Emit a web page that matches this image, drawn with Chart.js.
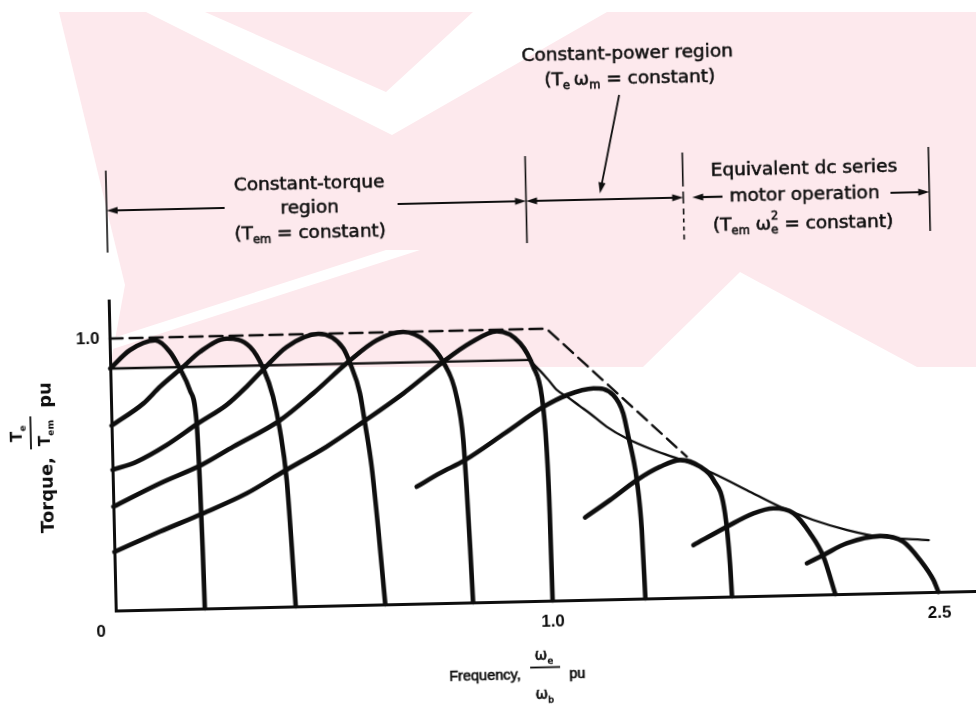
<!DOCTYPE html>
<html>
<head>
<meta charset="utf-8">
<title>Variable-frequency torque–speed characteristics</title>
<script src="https://cdn.jsdelivr.net/npm/chart.js@4.4.1/dist/chart.umd.min.js"></script>
<style>
  html, body { margin: 0; padding: 0; background: #fff; overflow: hidden; }
  #wrap { position: relative; width: 976px; height: 707px; }
  #mark { position: absolute; left: 0; top: 0; }
  #chart { position: absolute; left: 0; top: 0; transform: rotate(-1.3deg); transform-origin: 488px 353.5px; }
</style>
</head>
<body>
<div id="wrap">
  <!-- light page emblem behind the figure -->
  <svg id="mark" width="976" height="707" xmlns="http://www.w3.org/2000/svg">
    <rect x="0" y="12" width="976" height="355" fill="#fde9ed"/>
    <g fill="#ffffff">
      <polygon points="0,12 59,12 125,285 110,367 0,367"/>
      <polygon points="146,12 205,12 386,92 473,12 607,12 392,135"/>
      <polygon points="386,250 420,250 57,367 23,367"/>
      <polygon points="643,367 740,272 917,367"/>
    </g>
  </svg>
  <canvas id="chart" width="976" height="707"></canvas>
</div>
<script>
// ---- Axis ticks ----
const freqTicks = [0, 1.0, 2.5];
const freqTickLabels = ['0', '1.0', '2.5'];
const torqueTicks = [1.0];
const torqueTickLabels = ['1.0'];

// Operating-region boundaries along the frequency axis (pu)
const regionBoundaryFreq = [0, 0.96, 1.545, 2.505];

// ---- Torque–speed curves at successive supply frequencies (frequency pu, torque pu) ----
const curve1Freq   = [0, 0.046, 0.104, 0.137, 0.159, 0.181, 0.195, 0.199, 0.202, 0.204];
const curve1Torque = [0.89, 0.956, 0.99, 0.947, 0.885, 0.804, 0.681, 0.472, 0.227, 0];

const curve2Freq   = [0, 0.074, 0.113, 0.163, 0.206, 0.268, 0.321, 0.35, 0.371, 0.385, 0.398, 0.406, 0.412];
const curve2Torque = [0.68, 0.759, 0.819, 0.885, 0.944, 0.99, 0.958, 0.878, 0.773, 0.65, 0.465, 0.22, 0];

const curve3Freq   = [0, 0.055, 0.125, 0.198, 0.264, 0.311, 0.35, 0.405, 0.478, 0.534, 0.549, 0.57, 0.58, 0.593, 0.605, 0.617];
const curve3Torque = [0.517, 0.545, 0.604, 0.681, 0.746, 0.812, 0.874, 0.955, 1.0, 0.945, 0.889, 0.778, 0.667, 0.507, 0.274, 0];

const curve4Freq   = [0, 0.108, 0.204, 0.277, 0.386, 0.463, 0.545, 0.611, 0.672, 0.725, 0.762, 0.791, 0.804, 0.809, 0.814, 0.818];
const curve4Torque = [0.382, 0.464, 0.528, 0.592, 0.686, 0.782, 0.895, 0.972, 1.0, 0.962, 0.887, 0.757, 0.598, 0.426, 0.205, 0];

const curve5Freq   = [0, 0.105, 0.205, 0.306, 0.39, 0.491, 0.576, 0.669, 0.762, 0.824, 0.886, 0.939, 0.968, 0.986, 0.994, 0.998, 1.0];
const curve5Torque = [0.216, 0.286, 0.35, 0.42, 0.496, 0.585, 0.673, 0.774, 0.887, 0.953, 0.995, 0.949, 0.861, 0.75, 0.566, 0.321, 0];

const curve6Freq   = [0.695, 0.749, 0.807, 0.9, 0.989, 1.073, 1.178, 1.255, 1.292, 1.31, 1.328, 1.339, 1.354, 1.362];
const curve6Torque = [0.43, 0.478, 0.524, 0.62, 0.713, 0.754, 0.777, 0.75, 0.682, 0.596, 0.51, 0.436, 0.252, 0];

const curve7Freq   = [1.134, 1.233, 1.339, 1.431, 1.51, 1.587, 1.638, 1.68, 1.695, 1.7];
const curve7Torque = [0.303, 0.365, 0.436, 0.483, 0.506, 0.48, 0.43, 0.306, 0.122, 0];

const curve8Freq   = [1.554, 1.686, 1.791, 1.869, 1.947, 2.01, 2.06, 2.103];
const curve8Torque = [0.192, 0.257, 0.304, 0.321, 0.301, 0.226, 0.139, 0];

const curve9Freq   = [1.995, 2.06, 2.152, 2.283, 2.373, 2.437, 2.487, 2.505];
const curve9Torque = [0.116, 0.145, 0.186, 0.21, 0.187, 0.118, 0.044, 0];

// Envelope of the operating torque (thin solid line)
const envelopeFreq   = [0, 0.955, 0.975, 1.0, 1.035, 1.075, 1.123, 1.162, 1.226, 1.303, 1.406, 1.535, 1.638, 1.767, 1.895, 2.023, 2.154, 2.283, 2.472];
const envelopeTorque = [0.89, 0.887, 0.86, 0.815, 0.774, 0.748, 0.713, 0.685, 0.635, 0.59, 0.545, 0.499, 0.454, 0.39, 0.326, 0.275, 0.235, 0.207, 0.191];

// Breakdown-torque limit (dashed line)
const limitFreq   = [0, 1.0, 1.536];
const limitTorque = [1.0, 1.0, 0.518];

// ---- Frequency axis: 0–1 pu and 1–2.65 pu drawn on different spans ----
class PiecewiseScale extends Chart.LinearScale {
  static id = 'piecewise';
  static defaults = Chart.LinearScale.defaults;
  _decimalFor(v) {
    const bv = this.options.breakValue, bf = this.options.breakFraction;
    if (v <= bv) return (v - this.min) / (bv - this.min) * bf;
    return bf + (v - bv) / (this.max - bv) * (1 - bf);
  }
  getPixelForValue(v) {
    return this.getPixelForDecimal(this._decimalFor(v));
  }
  getValueForPixel(p) {
    const d = this.getDecimalForPixel(p);
    const bv = this.options.breakValue, bf = this.options.breakFraction;
    return d <= bf ? this.min + d / bf * (bv - this.min)
                   : bv + (d - bf) / (1 - bf) * (this.max - bv);
  }
}
Chart.register(PiecewiseScale);

const INK = '#0e0e0e';
const toPoints = (xs, ys) => xs.map((x, i) => ({ x, y: ys[i] }));

function heavy(xs, ys) {
  return { data: toPoints(xs, ys), borderColor: INK, borderWidth: 4.6,
           cubicInterpolationMode: 'monotone', pointRadius: 0, fill: false, clip: false };
}

const datasets = [
  heavy(curve1Freq, curve1Torque),
  heavy(curve2Freq, curve2Torque),
  heavy(curve3Freq, curve3Torque),
  heavy(curve4Freq, curve4Torque),
  heavy(curve5Freq, curve5Torque),
  heavy(curve6Freq, curve6Torque),
  heavy(curve7Freq, curve7Torque),
  heavy(curve8Freq, curve8Torque),
  heavy(curve9Freq, curve9Torque),
  { data: toPoints(envelopeFreq, envelopeTorque), borderColor: INK, borderWidth: 2.3,
    cubicInterpolationMode: 'monotone', pointRadius: 0, fill: false, clip: false },
  { data: toPoints(limitFreq, limitTorque), borderColor: INK, borderWidth: 2.4,
    borderDash: [13, 7], tension: 0, pointRadius: 0, fill: false, clip: false }
];

// ---- Text helpers: runs with subscripts / superscripts ----
function drawRich(ctx, parts, x0, midY, size, family, weight, align, ink) {
  const sm = size * 0.62;
  const fN = `${weight} ${size}px ${family}`;
  const fS = `${weight} ${sm}px ${family}`;
  let total = 0;
  const items = parts.map(p => {
    if (typeof p === 'string') {
      ctx.font = fN; const w = ctx.measureText(p).width; total += w; return { t: p, w };
    }
    ctx.font = fS;
    const w = Math.max(p.sub ? ctx.measureText(p.sub).width : 0, p.sup ? ctx.measureText(p.sup).width : 0);
    total += w; return Object.assign({ w }, p);
  });
  let x = align === 'center' ? x0 - total / 2 : align === 'right' ? x0 - total : x0;
  const base = midY + size * 0.36;
  ctx.textAlign = 'left';
  ctx.textBaseline = 'alphabetic';
  const put = (t, px, py) => {
    ctx.fillText(t, px, py);
    if (ink) { ctx.lineWidth = ink; ctx.strokeText(t, px, py); }
  };
  items.forEach(it => {
    if (it.t !== undefined) { ctx.font = fN; put(it.t, x, base); }
    else {
      ctx.font = fS;
      if (it.sub) put(it.sub, x, base + size * 0.26);
      if (it.sup) put(it.sup, x, base - size * 0.52);
    }
    x += it.w;
  });
  return total;
}

function arrowHead(ctx, x, y, dir) {
  ctx.beginPath();
  ctx.moveTo(x, y);
  ctx.lineTo(x - dir * 11, y - 3.6);
  ctx.lineTo(x - dir * 11, y + 3.6);
  ctx.closePath();
  ctx.fill();
}

function arrowLine(ctx, x1, x2, y, headStart, headEnd) {
  ctx.beginPath();
  ctx.moveTo(x1 + (headStart ? 6 : 0), y);
  ctx.lineTo(x2 - (headEnd ? 6 : 0), y);
  ctx.stroke();
  if (headStart) arrowHead(ctx, x1, y, -1);
  if (headEnd) arrowHead(ctx, x2, y, 1);
}

const ANNO_FONT = '"DejaVu Sans", sans-serif';
const TICK_FONT = '"Liberation Sans", Arial, sans-serif';

const figureText = {
  id: 'figureText',
  afterDraw(chart) {
    const ctx = chart.ctx;
    const xs = chart.scales.x, ys = chart.scales.y;
    ctx.save();
    ctx.fillStyle = INK;
    ctx.strokeStyle = INK;

    // tick labels
    ctx.font = `bold 17px ${TICK_FONT}`;
    ctx.textBaseline = 'middle';
    ctx.textAlign = 'center';
    const tickNudge = [-15, 0, 2];
    freqTicks.forEach((v, i) => ctx.fillText(freqTickLabels[i], xs.getPixelForValue(v) + tickNudge[i], xs.bottom + 21));
    ctx.textAlign = 'right';
    torqueTicks.forEach((v, i) => ctx.fillText(torqueTickLabels[i], ys.left - 10, ys.getPixelForValue(v)));

    // frequency axis title
    drawRich(ctx, ['Frequency,'], 442, 675, 14.5, TICK_FONT, 'normal', 'left', 0.6);
    drawRich(ctx, ['ω', { sub: 'e' }], 537, 656, 15, ANNO_FONT, 'normal', 'center', 0.6);
    drawRich(ctx, ['ω', { sub: 'b' }], 537, 695, 15, ANNO_FONT, 'normal', 'center', 0.6);
    ctx.lineWidth = 1.8;
    ctx.beginPath(); ctx.moveTo(523, 668.5); ctx.lineTo(553, 668.5); ctx.stroke();
    drawRich(ctx, ['pu'], 562, 675, 14.5, TICK_FONT, 'normal', 'left', 0.6);

    // torque axis title (reads upward)
    ctx.save();
    ctx.translate(44, 485);
    ctx.rotate(-Math.PI / 2);
    drawRich(ctx, ['Torque,'], 0, 0, 18, ANNO_FONT, 'bold', 'center');
    drawRich(ctx, ['T', { sub: 'e' }], 62, -29, 15, ANNO_FONT, 'bold', 'center');
    drawRich(ctx, ['T', { sub: 'em' }], 62, -1, 15, ANNO_FONT, 'bold', 'center');
    ctx.lineWidth = 1.8;
    ctx.beginPath(); ctx.moveTo(46, -15); ctx.lineTo(79, -15); ctx.stroke();
    drawRich(ctx, ['pu'], 100, 0, 18, ANNO_FONT, 'bold', 'center');
    ctx.restore();

    // operating-region markers
    const mx = regionBoundaryFreq.map(v => xs.getPixelForValue(v));
    ctx.lineWidth = 1.6;
    mx.forEach((x, i) => {
      ctx.beginPath();
      if (i === 2) ctx.setLineDash([34, 5, 12, 5, 6, 4, 4, 4, 4, 4]);
      else ctx.setLineDash([]);
      ctx.moveTo(x, i === 0 ? 162 : 157);
      ctx.lineTo(x, i === 3 ? 241 : 244);
      ctx.stroke();
    });
    ctx.setLineDash([]);

    const ay = 202;
    ctx.lineWidth = 2.2;
    arrowLine(ctx, mx[0], 228, ay, true, false);
    arrowLine(ctx, 401, mx[1], ay, false, true);
    arrowLine(ctx, mx[1], mx[2], ay, true, true);
    arrowLine(ctx, mx[2] + 9, 726, ay, true, false);
    arrowLine(ctx, 894, mx[3], ay, false, true);

    // pointer from the constant-power caption
    ctx.lineWidth = 1.8;
    ctx.beginPath(); ctx.moveTo(625, 98); ctx.lineTo(605.5, 187); ctx.stroke();
    ctx.save();
    ctx.translate(603.5, 196);
    ctx.rotate(Math.atan2(98 - 196, 625 - 603.5) + Math.PI);
    ctx.beginPath(); ctx.moveTo(0, 0); ctx.lineTo(-11, -3.6); ctx.lineTo(-11, 3.6); ctx.closePath(); ctx.fill();
    ctx.restore();

    // region captions
    const S = 18.5, K = 0.55;
    drawRich(ctx, ['Constant-torque'], 313, 178, S, ANNO_FONT, 'normal', 'center', K);
    drawRich(ctx, ['region'], 313, 202, S, ANNO_FONT, 'normal', 'center', K);
    drawRich(ctx, ['(T', { sub: 'em' }, ' = constant)'], 313, 227, S, ANNO_FONT, 'normal', 'center', K);

    drawRich(ctx, ['Constant-power region'], 634, 55, S, ANNO_FONT, 'normal', 'center', K);
    drawRich(ctx, ['(T', { sub: 'e' }, '\u2009ω', { sub: 'm' }, ' = constant)'], 636, 80, S, ANNO_FONT, 'normal', 'center', K);

    drawRich(ctx, ['Equivalent dc series'], 808, 174, S, ANNO_FONT, 'normal', 'center', K);
    drawRich(ctx, ['motor operation'], 808, 200, S, ANNO_FONT, 'normal', 'center', K);
    drawRich(ctx, ['(T', { sub: 'em' }, ' ω', { sup: '2', sub: 'e' }, ' = constant)'], 806, 229, S, ANNO_FONT, 'normal', 'center', K);

    ctx.restore();
  }
};

new Chart(document.getElementById('chart'), {
  type: 'line',
  data: { datasets },
  options: {
    responsive: false,
    animation: false,
    events: [],
    layout: { padding: { left: 110, right: 6, top: 292, bottom: 105 } },
    plugins: { legend: { display: false }, tooltip: { enabled: false } },
    elements: { point: { radius: 0 }, line: { borderCapStyle: 'round', borderJoinStyle: 'round' } },
    scales: {
      x: {
        type: 'piecewise', min: 0, max: 2.65, breakValue: 1, breakFraction: 437 / 860,
        grid: { display: false, drawTicks: false },
        ticks: { display: false },
        border: { display: true, color: INK, width: 3 },
        afterBuildTicks: s => { s.ticks = freqTicks.map(v => ({ value: v })); },
        afterFit: s => { s.height = 0; }
      },
      y: {
        type: 'linear', min: 0, max: 1.14,
        grid: { display: false, drawTicks: false },
        ticks: { display: false },
        border: { display: true, color: INK, width: 3 },
        afterBuildTicks: s => { s.ticks = torqueTicks.map(v => ({ value: v })); },
        afterFit: s => { s.width = 0; }
      }
    }
  },
  plugins: [figureText]
});
</script>
</body>
</html>
